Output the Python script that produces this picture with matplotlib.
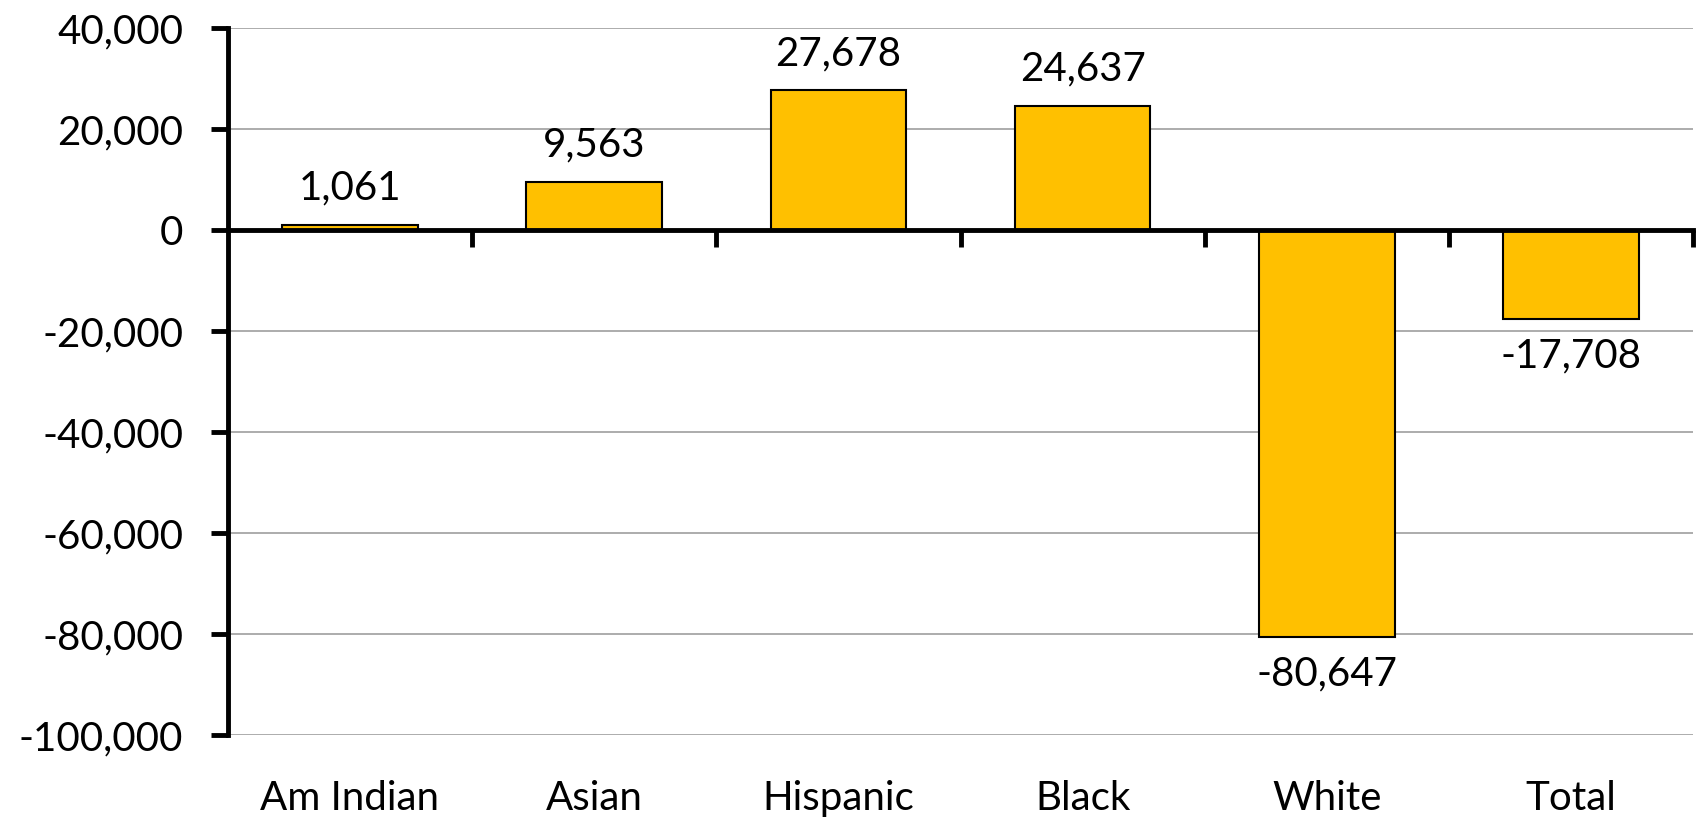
import numpy as np
import matplotlib

matplotlib.use("Agg")
import matplotlib.pyplot as plt
from matplotlib.ticker import FuncFormatter
import matplotlib.transforms as mtransforms

plt.rcParams["font.family"] = ["Lato", "DejaVu Sans"]

categories = ["Am Indian", "Asian", "Hispanic", "Black", "White", "Total"]
values = [1061, 9563, 27678, 24637, -80647, -17708]
y_ticks = [-100000, -80000, -60000, -40000, -20000, 0, 20000, 40000]

fig = plt.figure(figsize=(17, 8.19), dpi=100)
ax = fig.add_axes([0.134, 0.1026, 0.862, 0.8632])

x = np.arange(len(categories))
ax.bar(x, values, width=0.555, color="#FFC000", edgecolor="black",
       linewidth=1.5, zorder=3)

ax.set_xlim(-0.5, len(categories) - 0.5)
ax.set_ylim(-100000, 40000)
ax.set_yticks(y_ticks)
ax.yaxis.set_major_formatter(FuncFormatter(lambda v, p: f"{int(v):,}"))
ax.tick_params(axis="y", direction="out", length=12, width=3.5,
               labelsize=29, pad=20)
for v in y_ticks:
    if v != 0:
        ax.axhline(v, color="#a6a6a6", lw=1.3, zorder=1)

for s in ("top", "right"):
    ax.spines[s].set_visible(False)
ax.spines["left"].set_linewidth(3.5)
ax.spines["bottom"].set_position(("data", 0))
ax.spines["bottom"].set_linewidth(3.5)
ax.spines["bottom"].set_zorder(4)
ax.set_xticks(x + 0.5)
ax.set_xticklabels([])
ax.tick_params(axis="x", direction="out", length=12, width=3.5)

# category names under the plot area
trans = mtransforms.blended_transform_factory(ax.transData, ax.transAxes)
for i, c in enumerate(categories):
    ax.text(i, -0.09, c, transform=trans, ha="center", va="center", fontsize=29)

# value labels
off = 3600
for i, v in enumerate(values):
    if v >= 0:
        ax.text(i, v + off, f"{v:,}", ha="center", va="bottom", fontsize=29)
    else:
        ax.text(i, v - off, f"{v:,}", ha="center", va="top", fontsize=29)

plt.savefig("out.png", dpi=100)
